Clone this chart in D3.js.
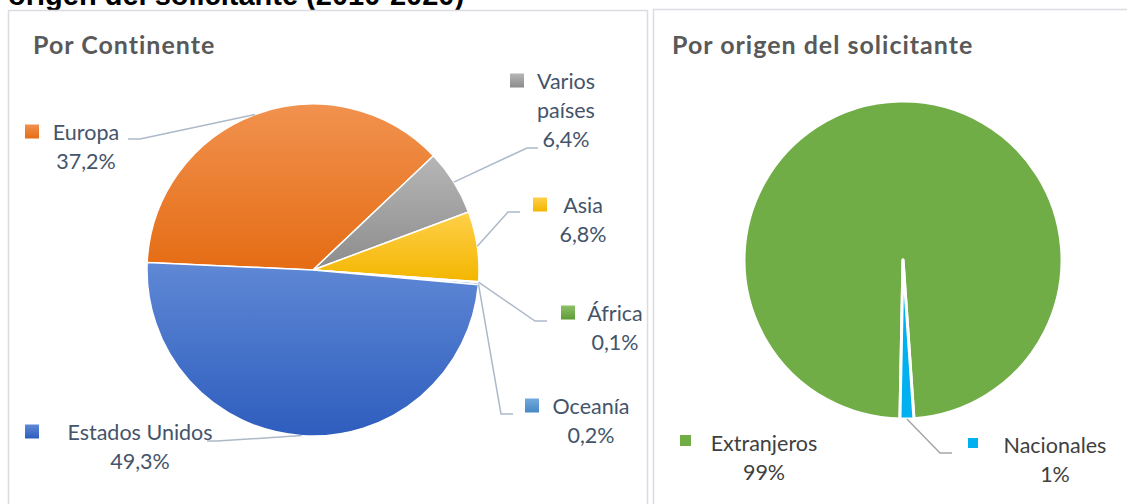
<!DOCTYPE html>
<html>
<head>
<meta charset="utf-8">
<title>Solicitudes por continente y por origen del solicitante</title>
<script src="https://cdn.jsdelivr.net/npm/d3@7"></script>
<style>
  body { margin: 0; background: #fff; }
  svg { display: block; }
</style>
</head>
<body>
<div id="chart"></div>
<script>
// values, in percent
var continentes = ["Europa", "Varios países", "Asia", "África", "Oceanía", "Estados Unidos"];
var continenteValores = [37.2, 6.4, 6.8, 0.1, 0.2, 49.3];
var origenes = ["Extranjeros", "Nacionales"];
var origenValores = [98.6, 1.4];

// label placement (layout only), same order as the data
var contLayout = [
  {lines: ["Europa"], cx: 86, y: 140, key: 25, elbow: [140, 139], end: 128},
  {lines: ["Varios", "países"], cx: 566, y: 89, key: 510, elbow: [527, 148], end: 538},
  {lines: ["Asia"], cx: 583, y: 213, key: 533, elbow: [508, 212], end: 520},
  {lines: ["África"], cx: 615, y: 321, key: 561, elbow: [535, 321], end: 547},
  {lines: ["Oceanía"], cx: 591, y: 414, key: 525, elbow: [501, 414], end: 513},
  {lines: ["Estados Unidos"], cx: 140, y: 440, key: 25, elbow: [217, 441], end: 207}
];
var origLayout = [
  {cx: 764, y: 451, key: 680, ks: 11, elbow: null},
  {cx: 1055, y: 453, key: 968, ks: 10, elbow: [940, 453], end: 952}
];

// gradient pairs (top, bottom) like the office chart fills
var contColors = [
  ["#F1924F", "#E56C14"],
  ["#B6B6B6", "#8C8C8C"],
  ["#FFD04A", "#F3B600"],
  ["#8CC168", "#5E9C37"],
  ["#72AADD", "#4787C6"],
  ["#5F88D5", "#2E5DBE"]
];
var origColors = ["#70AD47", "#00B0F0"];

var W = 1127, H = 504;
var es = d3.formatLocale({decimal: ",", thousands: ".", grouping: [3], currency: ["", "€"]});
var fmt1 = es.format(".1f"), fmt0 = es.format(".0f");

var svg = d3.select("#chart").append("svg").attr("width", W).attr("height", H)
  .style("font-family", "Lato, 'Open Sans', sans-serif");

// heading of the page above, cut off by the crop
svg.append("text")
  .attr("x", 8).attr("y", 5)
  .style("font-family", "'Liberation Sans', Arial, sans-serif")
  .style("font-weight", "bold").style("font-size", "29px").attr("fill", "#000")
  .text("origen del solicitante (2010-2020)");

// panel frames
svg.append("rect").attr("x", 8.5).attr("y", 10.5).attr("width", 639).attr("height", 520)
  .attr("fill", "none").attr("stroke", "#d9dce1").attr("stroke-width", 1.5);
svg.append("rect").attr("x", 653.5).attr("y", 9.5).attr("width", 500).attr("height", 520)
  .attr("fill", "none").attr("stroke", "#d9dce1").attr("stroke-width", 1.5);

var defs = svg.append("defs");
contColors.forEach(function (c, i) {
  var g = defs.append("linearGradient").attr("id", "g" + i)
    .attr("x1", 0).attr("y1", 0).attr("x2", 0).attr("y2", 1);
  g.append("stop").attr("offset", "0%").attr("stop-color", c[0]);
  g.append("stop").attr("offset", "100%").attr("stop-color", c[1]);
});

/* ---------- Por Continente ---------- */
svg.append("text").attr("x", 33).attr("y", 54)
  .style("font-weight", "bold").style("font-size", "25px").style("letter-spacing", "1px")
  .attr("fill", "#595959")
  .text("Por Continente");

var c1 = [313, 270], r1 = 166;
var a0 = -87.4 * Math.PI / 180;
var pie1 = d3.pie().sort(null).value(function (d) { return d; })
  .startAngle(a0).endAngle(a0 + 2 * Math.PI);
var arcs1 = pie1(continenteValores);
var arc1 = d3.arc().innerRadius(0).outerRadius(r1);
var edge1 = d3.arc().innerRadius(r1).outerRadius(r1);

var g1 = svg.append("g").attr("transform", "translate(" + c1 + ")");
g1.selectAll("path").data(arcs1).enter().append("path")
  .attr("d", arc1)
  .attr("fill", function (d, i) { return "url(#g" + i + ")"; })
  .attr("stroke", "#fff").attr("stroke-width", 1.5).attr("stroke-linejoin", "round");

// leader lines
arcs1.forEach(function (d, i) {
  var L = contLayout[i], p = edge1.centroid(d);
  var pts = [[c1[0] + p[0], c1[1] + p[1]], L.elbow, [L.end, L.elbow[1]]];
  svg.append("path").attr("d", d3.line()(pts))
    .attr("fill", "none").attr("stroke", "#adb9c9").attr("stroke-width", 1.5);
});

// labels with legend key
contLayout.forEach(function (L, i) {
  var lines = L.lines.concat([fmt1(continenteValores[i]) + "%"]);
  var t = svg.append("text").attr("text-anchor", "middle")
    .style("font-size", "21.5px").attr("fill", "#44546A");
  lines.forEach(function (s, k) {
    t.append("tspan").attr("x", L.cx).attr("y", L.y + k * 29).text(s);
  });
  svg.append("rect").attr("x", L.key).attr("y", L.y - 15.5).attr("width", 14).attr("height", 14)
    .attr("fill", "url(#g" + i + ")");
});

/* ---------- Por origen del solicitante ---------- */
svg.append("text").attr("x", 672).attr("y", 54)
  .style("font-weight", "bold").style("font-size", "25px").style("letter-spacing", "1px")
  .attr("fill", "#595959")
  .text("Por origen del solicitante");

var c2 = [903, 260], r2 = 159;
var b0 = 181.1 * Math.PI / 180;
var pie2 = d3.pie().sort(null).value(function (d) { return d; })
  .startAngle(b0).endAngle(b0 + 2 * Math.PI);
var arcs2 = pie2(origenValores);
var arc2 = d3.arc().innerRadius(0).outerRadius(r2);
var edge2 = d3.arc().innerRadius(r2).outerRadius(r2);

var g2 = svg.append("g").attr("transform", "translate(" + c2 + ")");
g2.selectAll("path").data(arcs2).enter().append("path")
  .attr("d", arc2)
  .attr("fill", function (d, i) { return origColors[i]; })
  .attr("stroke", "#fff").attr("stroke-width", 3).attr("stroke-linejoin", "round");

arcs2.forEach(function (d, i) {
  var L = origLayout[i];
  if (!L.elbow) return;
  var p = edge2.centroid(d);
  var pts = [[c2[0] + p[0], c2[1] + p[1]], L.elbow, [L.end, L.elbow[1]]];
  svg.append("path").attr("d", d3.line()(pts))
    .attr("fill", "none").attr("stroke", "#a6a6a6").attr("stroke-width", 1.5);
});

origLayout.forEach(function (L, i) {
  var t = svg.append("text").attr("text-anchor", "middle")
    .style("font-size", "21.5px").attr("fill", "#404040");
  t.append("tspan").attr("x", L.cx).attr("y", L.y).text(origenes[i]);
  t.append("tspan").attr("x", L.cx).attr("y", L.y + 29).text(fmt0(origenValores[i]) + "%");
  svg.append("rect").attr("x", L.key).attr("y", L.y - 5 - L.ks).attr("width", L.ks).attr("height", L.ks)
    .attr("fill", origColors[i]);
});
</script>
</body>
</html>
